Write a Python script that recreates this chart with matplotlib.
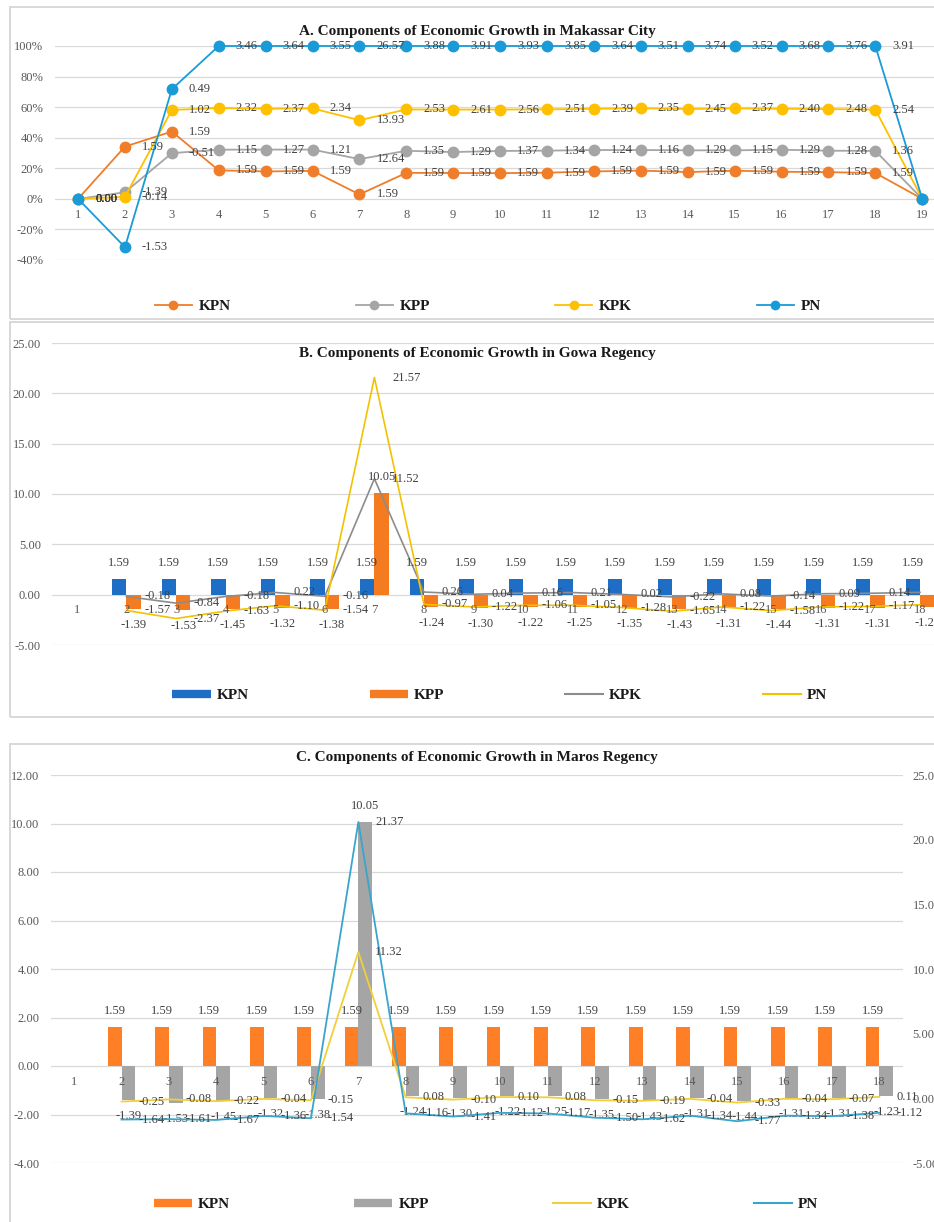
import numpy as np
import matplotlib
matplotlib.use("Agg")
import matplotlib.pyplot as plt
from matplotlib.lines import Line2D
from matplotlib.patches import Rectangle

plt.rcParams['font.family'] = ['Liberation Serif', 'DejaVu Serif']

W, H = 934, 1222

# ---- A. Makassar City (100% stacked line) ----
cats_a = list(range(1, 20))
a_kpn = [0.00, 1.59, 1.59, 1.59, 1.59, 1.59, 1.59, 1.59, 1.59, 1.59, 1.59, 1.59, 1.59, 1.59, 1.59, 1.59, 1.59, 1.59, 0.00]
a_kpp = [0.00, -1.39, -0.51, 1.15, 1.27, 1.21, 12.64, 1.35, 1.29, 1.37, 1.34, 1.24, 1.16, 1.29, 1.15, 1.29, 1.28, 1.36, 0.00]
a_kpk = [0.00, -0.14, 1.02, 2.32, 2.37, 2.34, 13.93, 2.53, 2.61, 2.56, 2.51, 2.39, 2.35, 2.45, 2.37, 2.40, 2.48, 2.54, 0.00]
a_pn = [0.00, -1.53, 0.49, 3.46, 3.64, 3.55, 26.57, 3.88, 3.91, 3.93, 3.85, 3.64, 3.51, 3.74, 3.52, 3.68, 3.76, 3.91, 0.00]

# ---- B. Gowa Regency ----
cats_b = list(range(1, 19))
b_kpn = [np.nan] + [1.59] * 17
b_kpp = [np.nan, -1.39, -1.53, -1.45, -1.32, -1.38, 10.05, -1.24, -1.30, -1.22, -1.25, -1.35, -1.43, -1.31, -1.44, -1.31, -1.31, -1.23]
b_kpk = [np.nan, -0.18, -0.84, -0.18, 0.22, -0.16, 11.52, 0.26, 0.04, 0.16, 0.21, 0.02, -0.22, 0.08, -0.14, 0.09, 0.14, 0.23]
b_pn = [np.nan, -1.57, -2.37, -1.63, -1.10, -1.54, 21.57, -0.97, -1.22, -1.06, -1.05, -1.28, -1.65, -1.22, -1.58, -1.22, -1.17, -1.00]

# ---- C. Maros Regency (lines on secondary axis) ----
cats_c = list(range(1, 19))
c_kpn = [np.nan] + [1.59] * 17
c_kpp = [np.nan, -1.39, -1.53, -1.45, -1.32, -1.38, 10.05, -1.24, -1.30, -1.22, -1.25, -1.35, -1.43, -1.31, -1.44, -1.31, -1.31, -1.23]
c_kpk = [np.nan, -0.25, -0.08, -0.22, -0.04, -0.15, 11.32, 0.08, -0.10, 0.10, 0.08, -0.15, -0.19, -0.04, -0.33, -0.04, -0.07, 0.11]
c_pn = [np.nan, -1.64, -1.61, -1.67, -1.36, -1.54, 21.37, -1.16, -1.41, -1.12, -1.17, -1.50, -1.62, -1.34, -1.77, -1.34, -1.38, -1.12]

series_names = ['KPN', 'KPP', 'KPK', 'PN']

LBL = '#404040'
TICK = '#595959'
GRID = '#d9d9d9'
FS = 9


def fx(px):
    return px / W


def fy(py):
    return 1 - py / H


def base_axes(ax):
    for s in ax.spines.values():
        s.set_visible(False)
    ax.spines['bottom'].set_position(('data', 0))
    ax.yaxis.grid(True, color=GRID, lw=0.9)
    ax.set_axisbelow(True)
    # category labels sit on top of the bars, like in Excel
    ax.xaxis.set_zorder(5)
    ax.tick_params(axis='both', length=0, labelsize=FS, labelcolor=TICK)
    ax.tick_params(axis='x', pad=7)
    ax.tick_params(axis='y', pad=8)


def line_labels(ax, xs, ys, vals, dx=16):
    for x, y, v in zip(xs, ys, vals):
        if np.isnan(v):
            continue
        ax.annotate(f'{v:.2f}', (x, y), xytext=(dx, 0), textcoords='offset pixels',
                    ha='left', va='center', fontsize=FS, color=LBL, annotation_clip=False, zorder=10)


def bar_labels(ax, xs, vals, dy=16):
    for x, v in zip(xs, vals):
        if np.isnan(v):
            continue
        ax.annotate(f'{v:.2f}', (x, v), xytext=(0, dy if v >= 0 else -dy), textcoords='offset pixels',
                    ha='center', va='center', fontsize=FS, color=LBL, annotation_clip=False, zorder=10)


fig = plt.figure(figsize=(W / 100, H / 100), dpi=100)

# chart frames
for top, bot in [(7, 319), (322, 717), (744, 1240)]:
    fig.add_artist(Rectangle((fx(10), fy(bot)), fx(960), (bot - top) / H, transform=fig.transFigure,
                             fill=False, edgecolor='#d6d6d6', lw=1.3))

# ================= A =================
colors_a = ['#F07D2A', '#A5A5A5', '#FFC000', '#1A9BD7']
axA = fig.add_axes([fx(54.6), fy(260), (945.7 - 54.6) / W, (260 - 46) / H])
base_axes(axA)
stack_a = np.array([a_kpn, a_kpp, a_kpk, a_pn])
tot_a = np.abs(stack_a).sum(axis=0)
cum_a = np.cumsum(stack_a, axis=0) / np.where(tot_a == 0, 1, tot_a)
for i, name in enumerate(series_names):
    axA.plot(cats_a, cum_a[i], color=colors_a[i], marker='o', ms=7.5, lw=1.3, clip_on=False, zorder=3 + i)
for i in range(4):
    line_labels(axA, cats_a, cum_a[i], stack_a[i], dx=17)
axA.set_xlim(0.5, 19.5)
axA.set_ylim(-0.4, 1.0)
axA.set_xticks(cats_a)
axA.set_yticks(np.arange(-0.4, 1.01, 0.2))
axA.set_yticklabels([f'{int(round(v * 100))}%' for v in np.arange(-0.4, 1.01, 0.2)])
fig.text(fx(477), fy(32), 'A. Components of Economic Growth in Makassar City', ha='center', va='center',
         fontsize=11, fontweight='bold', color='#1a1a1a')
hA = [Line2D([], [], color=c, marker='o', ms=6, lw=1.3) for c in colors_a]
fig.legend(hA, series_names, ncol=4, loc='center', bbox_to_anchor=(fx(488), fy(306)), frameon=False,
           prop={'weight': 'bold', 'size': 11}, handlelength=2.4, handletextpad=0.45, columnspacing=8.2,
           numpoints=1, labelcolor='#1a1a1a')

# ================= B =================
colors_b = ['#1F6EC6', '#F47B20', '#8C8C8C', '#F2C200']
axB = fig.add_axes([fx(52), fy(645), (19 * 49.6) / W, (645 - 343) / H])
base_axes(axB)
xb = np.array(cats_b, dtype=float)
bw = 0.29
axB.bar(xb - bw / 2, b_kpn, bw, color=colors_b[0], zorder=2)
axB.bar(xb + bw / 2, b_kpp, bw, color=colors_b[1], zorder=2)
axB.plot(xb, b_kpk, color=colors_b[2], lw=1.2, zorder=3)
axB.plot(xb, b_pn, color=colors_b[3], lw=1.2, zorder=3)
bar_labels(axB, xb - bw / 2, b_kpn)
bar_labels(axB, xb + bw / 2, b_kpp)
line_labels(axB, xb, b_kpk, b_kpk, dx=18)
line_labels(axB, xb, b_pn, b_pn, dx=18)
axB.set_xlim(0.5, 19.5)
axB.set_ylim(-5, 25)
axB.set_xticks(cats_b)
axB.set_yticks(np.arange(-5, 25.1, 5))
axB.set_yticklabels([f'{v:.2f}' for v in np.arange(-5, 25.1, 5)])
fig.text(fx(477), fy(353), 'B. Components of Economic Growth in Gowa Regency', ha='center', va='center',
         fontsize=11, fontweight='bold', color='#1a1a1a')
hB = [Line2D([], [], color=colors_b[0], lw=6, solid_capstyle='butt'),
      Line2D([], [], color=colors_b[1], lw=6, solid_capstyle='butt'),
      Line2D([], [], color=colors_b[2], lw=1.5),
      Line2D([], [], color=colors_b[3], lw=1.5)]
fig.legend(hB, series_names, ncol=4, loc='center', bbox_to_anchor=(fx(500), fy(695)), frameon=False,
           prop={'weight': 'bold', 'size': 11}, handlelength=2.5, handletextpad=0.4, columnspacing=7.9,
           labelcolor='#1a1a1a')

# ================= C =================
colors_c = ['#FF7F27', '#A5A5A5', '#F2CF3A', '#3AA5CC']
axC = fig.add_axes([fx(50.5), fy(1163), (903 - 50.5) / W, (1163 - 775) / H])
base_axes(axC)
xc = np.array(cats_c, dtype=float)
axC.bar(xc - bw / 2, c_kpn, bw, color=colors_c[0], zorder=2)
axC.bar(xc + bw / 2, c_kpp, bw, color=colors_c[1], zorder=2)
bar_labels(axC, xc - bw / 2, c_kpn)
bar_labels(axC, xc + bw / 2, c_kpp)
axC.set_xlim(0.5, 18.5)
axC.set_ylim(-4, 12)
axC.set_xticks(cats_c)
axC.set_yticks(np.arange(-4, 12.1, 2))
axC.set_yticklabels([f'{v:.2f}' for v in np.arange(-4, 12.1, 2)])

axC2 = axC.twinx()
for s in axC2.spines.values():
    s.set_visible(False)
axC2.plot(xc, c_kpk, color=colors_c[2], lw=1.3, zorder=3)
axC2.plot(xc, c_pn, color=colors_c[3], lw=1.3, zorder=3)
line_labels(axC2, xc, c_kpk, c_kpk, dx=17)
line_labels(axC2, xc, c_pn, c_pn, dx=17)
axC2.set_ylim(-5, 25)
axC2.set_yticks(np.arange(-5, 25.1, 5))
axC2.set_yticklabels([f'{v:.2f}' for v in np.arange(-5, 25.1, 5)])
axC2.tick_params(axis='y', length=0, labelsize=FS, labelcolor=TICK, pad=7)
fig.text(fx(477), fy(757), 'C. Components of Economic Growth in Maros Regency', ha='center', va='center',
         fontsize=11, fontweight='bold', color='#1a1a1a')
hC = [Line2D([], [], color=colors_c[0], lw=6, solid_capstyle='butt'),
      Line2D([], [], color=colors_c[1], lw=6, solid_capstyle='butt'),
      Line2D([], [], color=colors_c[2], lw=1.5),
      Line2D([], [], color=colors_c[3], lw=1.5)]
fig.legend(hC, series_names, ncol=4, loc='center', bbox_to_anchor=(fx(486), fy(1204)), frameon=False,
           prop={'weight': 'bold', 'size': 11}, handlelength=2.5, handletextpad=0.4, columnspacing=8.1,
           labelcolor='#1a1a1a')

fig.savefig('out.png', dpi=100, facecolor='white')
